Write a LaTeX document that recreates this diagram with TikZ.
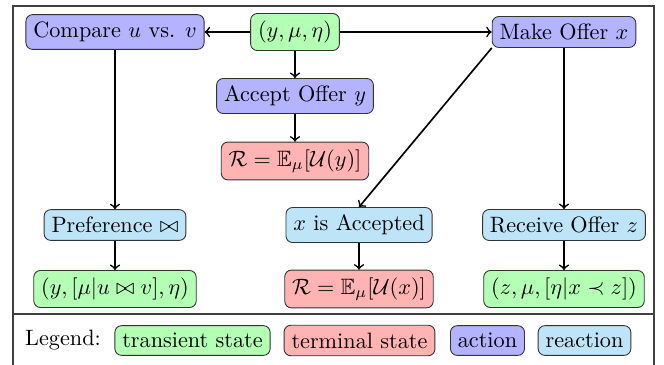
\documentclass[tikz,border=0pt]{standalone}
\usepackage{amssymb}
\definecolor{stgreen}{RGB}{179,255,179}
\definecolor{stred}{RGB}{255,179,179}
\definecolor{stblue}{RGB}{179,179,255}
\definecolor{stcyan}{RGB}{190,228,248}
\tikzset{
  box/.style={draw=black!80, rounded corners=3pt, inner sep=3.333pt, line width=0.4pt},
  transient/.style={box, fill=stgreen},
  terminal/.style={box, fill=stred},
  action/.style={box, fill=stblue},
  reaction/.style={box, fill=stcyan},
  arr/.style={->, line width=0.75pt},
  frame/.style={draw=black!75, line width=0.5pt}
}
\begin{document}
\begin{tikzpicture}[x=0.45pt, y=-0.45pt]
\clip (0,0) rectangle (664,364);
\draw[frame] (13,6) rectangle (654,372);
\draw[frame] (13,314) -- (654,314);

\node[action]    (cmp)  at (115,32)  {Compare $u$ vs. $v$};
\node[transient] (st)   at (295,32)  {$(y,\mu,\eta)$};
\node[action]    (mo)   at (564,32)  {Make Offer $x$};
\node[action]    (acc)  at (295,96)  {Accept Offer $y$};
\node[terminal]  (ry)   at (295,161) {$\mathcal{R}=\mathbb{E}_\mu[\mathcal{U}(y)]$};
\node[reaction]  (pref) at (115,225) {Preference $\bowtie$};
\node[reaction]  (xa)   at (359,225) {$x$ is Accepted};
\node[reaction]  (rz)   at (564,225) {Receive Offer $z$};
\node[transient] (s1)   at (115,289) {$(y,[\mu|u\bowtie v],\eta)$};
\node[terminal]  (rx)   at (359,289) {$\mathcal{R}=\mathbb{E}_\mu[\mathcal{U}(x)]$};
\node[transient] (s2)   at (564,289) {$(z,\mu,[\eta|x\prec z])$};

\draw[arr] (st) -- (cmp);
\draw[arr] (st) -- (mo);
\draw[arr] (st) -- (acc);
\draw[arr] (acc) -- (ry);
\draw[arr] (cmp) -- (pref);
\draw[arr] (pref) -- (s1);
\draw[arr] (mo.south west) -- (xa.north);
\draw[arr] (mo) -- (rz);
\draw[arr] (rz) -- (s2);
\draw[arr] (xa) -- (rx);

\node (leg) at (63,340) {Legend:};
\node[transient] (lg1) at (192.5,340.5) {transient state};
\node[terminal]  (lg2) at (359.5,340.5) {terminal state};
\node[action]    (lg3) at (487.5,340.5) {action};
\node[reaction]  (lg4) at (584.5,340.5) {reaction};
\end{tikzpicture}
\end{document}
